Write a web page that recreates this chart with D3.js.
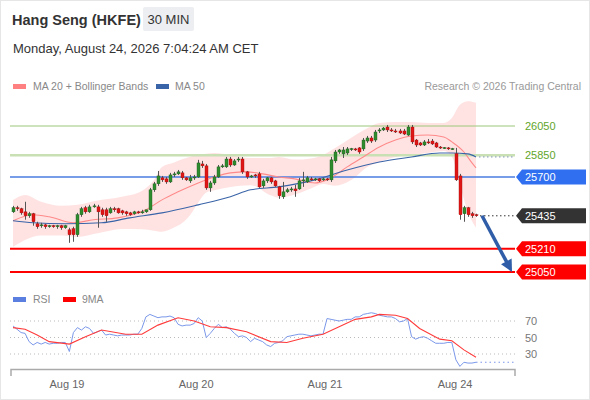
<!DOCTYPE html>
<html><head><meta charset="utf-8">
<script src="https://cdn.jsdelivr.net/npm/d3@7"></script>
<style>body{margin:0;background:#fff}svg{display:block;font-family:"Liberation Sans",Arial,sans-serif}</style>
</head><body><svg id="c" width="590" height="400"></svg>
<script>
// ---- data ----
const ohlc = [
[25462,25503,25455,25490],[25490,25503,25469,25483],[25483,25490,25442,25455],[25462,25531,25408,25435],
[25435,25462,25421,25449],[25449,25455,25367,25394],[25380,25394,25346,25360],[25367,25387,25353,25373],
[25373,25380,25346,25360],[25360,25373,25353,25367],[25367,25373,25353,25360],[25360,25373,25346,25367],
[25367,25373,25339,25353],[25353,25373,25346,25367],[25339,25353,25250,25305],[25346,25360,25257,25305],
[25305,25455,25291,25442],[25442,25496,25428,25483],[25490,25503,25449,25462],[25462,25510,25455,25496],
[25496,25517,25490,25503],[25496,25510,25353,25462],[25476,25490,25428,25442],[25476,25490,25394,25435],
[25455,25496,25449,25483],[25483,25496,25462,25476],[25483,25490,25449,25455],[25469,25476,25442,25455],
[25462,25469,25435,25449],[25455,25462,25435,25442],[25449,25469,25442,25462],[25462,25469,25449,25455],
[25455,25476,25449,25462],[25462,25476,25455,25476],[25476,25626,25469,25613],[25613,25667,25599,25654],
[25654,25742,25640,25708],[25695,25708,25667,25681],[25688,25701,25654,25667],[25667,25729,25660,25715],
[25715,25736,25701,25722],[25722,25749,25715,25736],[25729,25742,25681,25695],[25695,25701,25674,25681],
[25674,25715,25660,25695],[25695,25715,25681,25701],[25701,25818,25695,25797],[25790,25811,25763,25777],
[25777,25790,25613,25626],[25626,25674,25599,25660],[25660,25715,25647,25701],[25701,25783,25695,25770],
[25770,25790,25763,25777],[25770,25838,25763,25824],[25824,25838,25770,25783],[25783,25824,25777,25811],
[25818,25838,25804,25824],[25824,25838,25722,25736],[25736,25742,25688,25701],[25701,25715,25695,25708],
[25715,25722,25695,25708],[25722,25736,25626,25633],[25640,25688,25626,25674],[25674,25701,25660,25695],
[25695,25701,25654,25667],[25674,25681,25633,25640],[25633,25640,25551,25572],[25565,25667,25551,25599],
[25599,25626,25592,25613],[25613,25633,25599,25619],[25619,25647,25565,25606],[25619,25695,25613,25674],
[25674,25736,25633,25681],[25667,25708,25660,25695],[25688,25701,25674,25681],[25681,25695,25674,25688],
[25688,25695,25667,25674],[25681,25695,25674,25688],[25688,25695,25674,25681],[25681,25838,25667,25818],
[25811,25886,25797,25872],[25872,25893,25859,25886],[25859,25906,25831,25886],[25865,25906,25852,25893],
[25893,25900,25879,25895],[25893,25900,25879,25886],[25900,25906,25859,25872],[25893,25968,25879,25954],
[25947,25982,25934,25968],[25968,25982,25934,25947],[25954,26023,25941,26009],[26016,26036,26002,26023],
[26023,26043,26016,26036],[26043,26057,26009,26023],[26023,26036,26009,26016],[26016,26030,26002,26009],
[26016,26030,25995,26002],[26016,26030,25988,25995],[25988,26057,25982,26043],[26043,26057,25927,25941],
[25954,25961,25906,25920],[25934,25941,25913,25920],[25920,25954,25913,25941],[25941,25961,25927,25934],
[25947,25961,25920,25927],[25934,25941,25900,25906],[25906,25913,25893,25900],[25900,25906,25893,25902],
[25900,25906,25886,25893],[25893,25900,25886,25895],[25860,25900,25674,25681],[25708,25722,25408,25442],
[25449,25503,25394,25490],[25490,25496,25428,25442],[25449,25462,25421,25435],[25442,25449,25428,25435]
];
const ma20Idx = [0,5,9,15,20,26,33,37,41,46,50,54,58,62,66,70,75,78,83,87,91,95,99,103,107,109,112,114,115];
const ma20Val = [25401,25442,25428,25387,25408,25421,25476,25544,25599,25660,25701,25729,25736,25722,25701,25688,25660,25681,25770,25838,25906,25954,25982,25988,25975,25941,25872,25797,25763];
const ma50Idx = [0,5,13,22,29,37,46,54,59,66,75,83,91,99,106,109,113,115];
const ma50Val = [25401,25387,25380,25387,25421,25455,25510,25565,25613,25633,25681,25749,25804,25838,25865,25865,25859,25838];
const bandIdx = [0,3,7,12,16,21,27,32,35,37,40,42,44,46,48,50,54,59,64,66,70,74,77,80,84,88,91,95,99,103,107,109,111,113,115];
const bandUpper = [25544,25578,25531,25503,25510,25540,25565,25605,25680,25770,25800,25822,25840,25852,25860,25865,25852,25831,25831,25838,25820,25828,25852,25900,25970,26035,26071,26077,26077,26071,26071,26105,26195,26220,26210];
const bandLower = [25223,25270,25300,25300,25290,25315,25345,25342,25333,25326,25355,25385,25440,25525,25595,25610,25633,25645,25575,25558,25580,25622,25652,25640,25680,25770,25804,25838,25852,25865,25878,25840,25650,25460,25355];
const rsiVal = [64,60,56,55,45,41,44,42,44,42,43,43,44,44,33,56,62,59,63,61,55,57,59,53,54,53,52,53,53,53,54,54,61,75,78,76,74,75,75,76,74,66,64,65,65,67,74,70,50,55,61,66,62,63,60,55,51,52,50,45,49,47,45,41,39,43,44,46,51,52,53,54,54,53,52,53,54,54,73,72,71,70,71,72,72,75,75,78,79,80,79,77,76,75,75,73,69,70,73,51,48,50,51,49,46,43,43,43,44,44,23,15,20,19,19,20];
const rsiMaIdx = [0,3,6,9,14,18,22,28,32,36,41,45,49,53,58,64,68,72,77,81,85,89,91,95,98,101,106,109,112,115];
const rsiMaVal = [62,60,53,45,42,51,59,54,54,65,74,70,63,62,57,45,44,49,54,63,72,75,78,77,73,61,48,46,35,26];
const levelVals = [26050,25850,25700,25435,25210,25050];
const levelKinds = ["res1","res2","pivot","last","sup1","sup2"];
const dayTickIdx = [13.4,45.5,77.5,109.8];
const dayLabels = ["Aug 19","Aug 20","Aug 21","Aug 24"];
const rsiTicks = [70,50,30];

// ---- scales ----
const svg = d3.select("#c");
const x = d3.scaleLinear().domain([0,115]).range([13,476]);
const y = d3.scaleLinear().domain([25050,26050]).range([272,126]);
const yr = d3.scaleLinear().domain([30,70]).range([354,321]);
const X0 = 10, X1 = 515;

svg.append("rect").attr("x",0.5).attr("y",0.5).attr("width",589).attr("height",399).attr("fill","#fff").attr("stroke","#e6e6e6");

// header
svg.append("text").attr("x",12).attr("y",25).attr("font-size",14.5).attr("font-weight","bold").attr("fill","#333").text("Hang Seng (HKFE)");
svg.append("rect").attr("x",143).attr("y",7).attr("width",51).attr("height",24).attr("rx",2).attr("fill","#eceef1");
svg.append("text").attr("x",168.5).attr("y",24).attr("text-anchor","middle").attr("font-size",13).attr("fill","#333").text("30 MIN");
svg.append("text").attr("x",13).attr("y",53).attr("font-size",13).attr("fill","#333").text("Monday, August 24, 2026 7:04:24 AM CET");

// legend
svg.append("rect").attr("x",13).attr("y",84).attr("width",13).attr("height",5).attr("fill","#ff8080");
svg.append("text").attr("x",33).attr("y",90).attr("font-size",10.5).attr("fill","#888").text("MA 20 + Bollinger Bands");
svg.append("rect").attr("x",156).attr("y",84).attr("width",13).attr("height",5).attr("fill","#3a64a8");
svg.append("text").attr("x",175).attr("y",90).attr("font-size",10.5).attr("fill","#888").text("MA 50");
svg.append("text").attr("x",581).attr("y",90).attr("text-anchor","end").attr("font-size",10.5).attr("fill","#999").text("Research \u00a9 2026 Trading Central");

// bollinger band
const bandData = bandIdx.map((d,i)=>({i:d,u:bandUpper[i],l:bandLower[i]}));
svg.append("path").datum(bandData)
  .attr("d", d3.area().x(d=>x(d.i)).y0(d=>y(d.l)).y1(d=>y(d.u)).curve(d3.curveMonotoneX))
  .attr("fill","#ffe3e3");

// level lines
const lvlColor = {res1:"#9cc77a",res2:"#c8e0b4",pivot:"#4a7de0",sup1:"#ff0000",sup2:"#ff0000"};
const lvlWidth = {res1:1,res2:2.5,pivot:1.5,sup1:2,sup2:2};
levelVals.forEach((v,k)=>{
  const kind = levelKinds[k];
  if (kind==="last") return;
  svg.append("line").attr("x1",X0).attr("x2",X1).attr("y1",y(v)).attr("y2",y(v))
    .attr("stroke",lvlColor[kind]).attr("stroke-width",lvlWidth[kind]);
});

// MA lines
svg.append("path").datum(ma20Idx.map((d,i)=>[d,ma20Val[i]]))
  .attr("d", d3.line().x(d=>x(d[0])).y(d=>y(d[1])).curve(d3.curveMonotoneX))
  .attr("fill","none").attr("stroke","#ff8a8a").attr("stroke-width",1.1);
svg.append("path").datum(ma50Idx.map((d,i)=>[d,ma50Val[i]]))
  .attr("d", d3.line().x(d=>x(d[0])).y(d=>y(d[1])).curve(d3.curveMonotoneX))
  .attr("fill","none").attr("stroke","#3a64a8").attr("stroke-width",1.1);
const lastMa50 = ma50Val[ma50Val.length-1];
svg.append("line").attr("x1",x(115)+3).attr("x2",X1).attr("y1",y(lastMa50)).attr("y2",y(lastMa50))
  .attr("stroke","#7f93b5").attr("stroke-dasharray","1.5,2.5");

// candles
const cg = svg.append("g");
ohlc.forEach((d,i)=>{
  const [o,h,l,c] = d;
  const up = c >= o;
  const cx = Math.round(x(i))+0.5;
  cg.append("line").attr("x1",cx).attr("x2",cx).attr("y1",y(h)).attr("y2",y(l)).attr("stroke","#555").attr("stroke-width",1);
  const top = y(Math.max(o,c)), bot = y(Math.min(o,c));
  cg.append("rect").attr("x",cx-1.5).attr("y",top).attr("width",3).attr("height",Math.max(1,bot-top))
    .attr("fill", up ? "#2e8b2e" : "#e01515").attr("stroke", up ? "#1f5f1f" : "#a31010").attr("stroke-width",0.4);
});

// last price dotted
const lastP = levelVals[3];
svg.append("line").attr("x1",x(115)+4).attr("x2",X1).attr("y1",y(lastP)).attr("y2",y(lastP))
  .attr("stroke","#333").attr("stroke-dasharray","1.5,2.5");

// arrow
const ax0 = x(115)+6, ay0 = y(lastP), ax1 = X1-3, ay1 = y(levelVals[5]);
const dx = ax1-ax0, dy = ay1-ay0, len = Math.hypot(dx,dy), ux = dx/len, uy = dy/len;
const hl = 12, hw = 6;
const bx = ax1-ux*hl, by = ay1-uy*hl;
svg.append("line").attr("x1",ax0).attr("y1",ay0).attr("x2",bx+ux*2).attr("y2",by+uy*2)
  .attr("stroke","#2f5da8").attr("stroke-width",3.5);
svg.append("path").attr("d",`M${ax1},${ay1}L${bx+uy*hw},${by-ux*hw}L${bx-uy*hw},${by+ux*hw}Z`).attr("fill","#2f5da8");

// level labels
const boxColor = {pivot:"#2f6ff0",last:"#333333",sup1:"#ff0000",sup2:"#ff0000"};
levelVals.forEach((v,k)=>{
  const kind = levelKinds[k], yy = y(v);
  if (boxColor[kind]) {
    svg.append("path").attr("d",`M${X1+1},${yy}L${X1+7},${yy-7.5}L586,${yy-7.5}L586,${yy+7.5}L${X1+7},${yy+7.5}Z`).attr("fill",boxColor[kind]);
    svg.append("text").attr("x",525).attr("y",yy+4).attr("font-size",11).attr("fill","#fff").text(v);
  } else {
    svg.append("text").attr("x",525).attr("y",yy+4).attr("font-size",11).attr("fill","#5fa52a").text(v);
  }
});

// RSI panel
svg.append("rect").attr("x",13).attr("y",297).attr("width",13).attr("height",5).attr("fill","#5b7fe0");
svg.append("text").attr("x",33).attr("y",303).attr("font-size",10.5).attr("fill","#888").text("RSI");
svg.append("rect").attr("x",63).attr("y",297).attr("width",13).attr("height",5).attr("fill","#ff0000");
svg.append("text").attr("x",82).attr("y",303).attr("font-size",10.5).attr("fill","#888").text("9MA");
rsiTicks.forEach(t=>{
  svg.append("line").attr("x1",X0).attr("x2",X1).attr("y1",yr(t)).attr("y2",yr(t))
    .attr("stroke","#bbb").attr("stroke-dasharray","1,3");
  svg.append("text").attr("x",525).attr("y",yr(t)+4).attr("font-size",11).attr("fill","#777").text(t);
});
svg.append("path").datum(rsiVal)
  .attr("d", d3.line().x((d,i)=>x(i)).y(d=>yr(d)))
  .attr("fill","none").attr("stroke","#7b98ea").attr("stroke-width",1);
const lastR = rsiVal[rsiVal.length-1];
svg.append("line").attr("x1",x(115)).attr("x2",X1).attr("y1",yr(lastR)).attr("y2",yr(lastR))
  .attr("stroke","#7b98ea").attr("stroke-dasharray","1.5,3").attr("stroke-width",1.2);
svg.append("path").datum(rsiMaIdx.map((d,i)=>[d,rsiMaVal[i]]))
  .attr("d", d3.line().x(d=>x(d[0])).y(d=>yr(d[1])))
  .attr("fill","none").attr("stroke","#ff3b3b").attr("stroke-width",1.1);

// x axis
svg.append("path").attr("d",`M11,376V369.5H${X1}V376`).attr("fill","none").attr("stroke","#aaa").attr("stroke-width",1.5);
dayTickIdx.forEach((t,k)=>{
  svg.append("text").attr("x",x(t)).attr("y",388).attr("text-anchor","middle").attr("font-size",11).attr("fill","#666").text(dayLabels[k]);
});
</script></body></html>
